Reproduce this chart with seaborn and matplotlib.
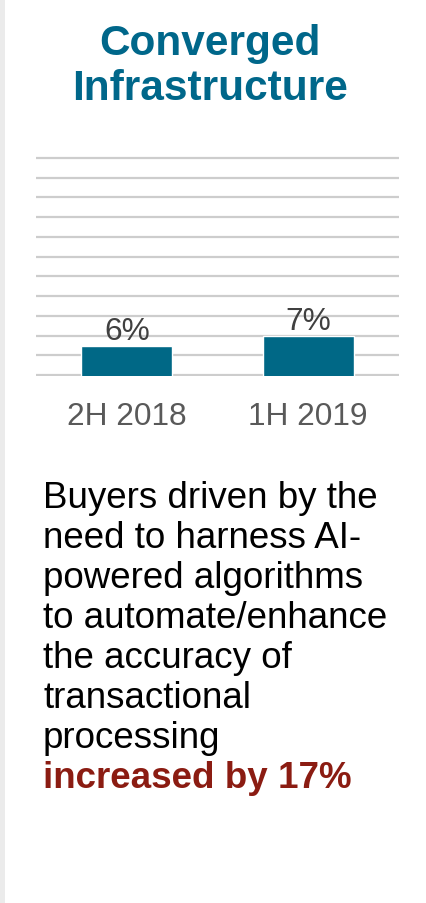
import matplotlib
matplotlib.use("Agg")
import matplotlib.pyplot as plt
import seaborn as sns
import numpy as np
import pandas as pd
from matplotlib.patches import Rectangle

# ---- data ----
categories = ["2H 2018", "1H 2019"]
values = [6, 7]
value_labels = ["6%", "7%"]
title_lines = ["Converged", "Infrastructure"]
body_lines = ["Buyers driven by the", "need to harness AI-", "powered algorithms",
              "to automate/enhance", "the accuracy of", "transactional", "processing"]
highlight_line = "increased by 17%"

BAR = "#006886"
TITLE = "#00678A"
RED = "#8B1C12"

sns.set_theme(style="white")
plt.rcParams['font.family'] = ['Liberation Sans', 'DejaVu Sans']

W, H = 426, 904
fig = plt.figure(figsize=(W / 100, H / 100), dpi=100)
fig.patch.set_facecolor("white")

def fx(x):
    return x / W

def fy(y):
    return 1 - y / H

# frame decorations
fig.patches.append(Rectangle((0, 0), fx(4.5), 1, transform=fig.transFigure,
                             facecolor="#EBEBEB", edgecolor="none", zorder=0))
fig.patches.append(Rectangle((0, fy(1.2)), 1, 1.2 / H, transform=fig.transFigure,
                             facecolor="#E3E3E3", edgecolor="none", zorder=0))

# axes: gridlines from y=159 to y=376 px, x from 36 to 399 px
top_px, bot_px = 157, 377
ax = fig.add_axes([fx(36), fy(bot_px), fx(399) - fx(36), (bot_px - top_px) / H])
ppu = 10.0  # pixels per unit
ymin = 6 - (376 - 347) / ppu
ylo = ymin - (bot_px - 376) / ppu
yhi = ymin + (376 - top_px) / ppu

df = pd.DataFrame({"cat": categories, "val": values})
sns.barplot(data=df, x="cat", y="val", color=BAR, width=0.5, ax=ax,
            saturation=1, zorder=3)
ax.set_xlim(-0.5, 1.5)
ax.set_ylim(ylo, yhi)

grid_vals = np.linspace(ymin, ymin + 217 / ppu, 12)
ax.set_yticks(grid_vals)
ax.set_yticklabels([])
ax.yaxis.grid(True, color="#CDCDCD", linewidth=1.6, zorder=0)
ax.set_axisbelow(True)
for s in ax.spines.values():
    s.set_visible(False)
ax.tick_params(axis="both", length=0)
ax.tick_params(axis="x", pad=18, labelsize=22.8, labelcolor="#595959")
ax.set_xlabel("")
ax.set_ylabel("")
ax.patch.set_alpha(0)

for i, (v, lab) in enumerate(zip(values, value_labels)):
    ax.annotate(lab, (i, v), xytext=(0, 6.5), textcoords="offset pixels",
                ha="center", va="baseline", fontsize=22.8, color="#404040")

# title
fig.text(fx(210), fy(55), title_lines[0], ha="center", va="baseline",
         fontsize=30.5, fontweight="bold", color=TITLE)
fig.text(fx(210.5), fy(100), title_lines[1], ha="center", va="baseline",
         fontsize=30.5, fontweight="bold", color=TITLE)

# body text
y0 = 508
for k, line in enumerate(body_lines):
    fig.text(fx(43), fy(y0 + 40 * k), line, ha="left", va="baseline",
             fontsize=26.5, color="black")
fig.text(fx(43), fy(y0 + 40 * len(body_lines)), highlight_line, ha="left",
         va="baseline", fontsize=26.5, fontweight="bold", color=RED)

fig.savefig("out.png", dpi=100, facecolor="white")
